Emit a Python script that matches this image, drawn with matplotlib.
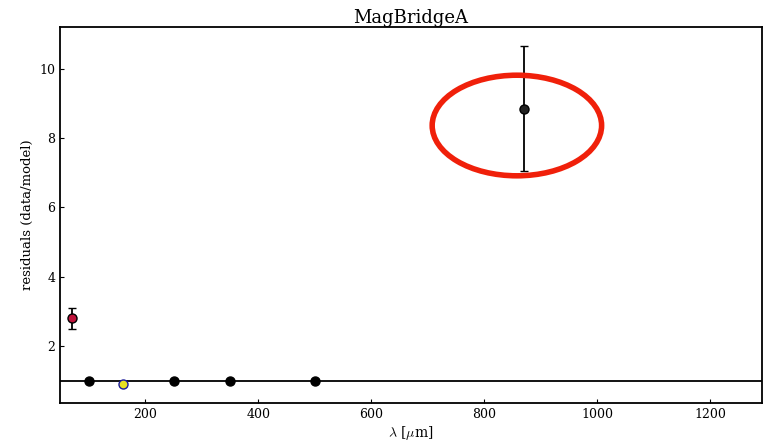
import matplotlib
matplotlib.use('Agg')
import matplotlib.pyplot as plt
from matplotlib.patches import Ellipse

plt.rcParams['font.family'] = 'serif'
plt.rcParams['font.serif'] = ['DejaVu Serif']
plt.rcParams['mathtext.fontset'] = 'cm'

# residuals per band
wavelengths = [70, 100, 160, 250, 350, 500, 870]
residuals = [2.8, 1.0, 0.92, 1.0, 1.0, 1.0, 8.85]
errors = [0.3, 0.04, 0.06, 0.03, 0.03, 0.04, 1.8]
face_colors = ['#c0143c', 'black', '#e8e020', 'black', 'black', 'black', '#222222']
edge_colors = ['black', 'black', '#1a1a9a', 'black', 'black', 'black', 'black']

title = 'MagBridgeA'
xlabel = r'$\lambda$ [$\mu$m]'
ylabel = 'residuals (data/model)'

# highlighted region around the 870 um point
ell_center = (858, 8.36)
ell_width = 300
ell_height = 2.9

fig = plt.figure(figsize=(7.65, 4.46), dpi=100)
ax = fig.add_axes([60 / 765, 43 / 446, 702 / 765, 376 / 446])

ax.axhline(1.0, color='black', lw=1.3, zorder=1)
for x, y, e, fc, ec in zip(wavelengths, residuals, errors, face_colors, edge_colors):
    ax.errorbar(x, y, yerr=e, fmt='o', ms=6.5, mfc=fc, mec=ec, mew=1.0,
                ecolor='black', elinewidth=1.3, capsize=3, capthick=1.2, zorder=3)

ax.add_patch(Ellipse(ell_center, ell_width, ell_height, fill=False,
                     edgecolor='#f0200a', lw=4, zorder=4))

ax.set_xlim(49, 1292)
ax.set_ylim(0.36, 11.2)
ax.set_xticks([200, 400, 600, 800, 1000, 1200])
ax.set_yticks([2, 4, 6, 8, 10])
ax.tick_params(direction='in', length=3, labelsize=9, width=0.8)
for s in ax.spines.values():
    s.set_linewidth(1.3)

ax.set_title(title, fontsize=13, pad=2)
ax.set_xlabel(xlabel, fontsize=10, labelpad=2)
ax.set_ylabel(ylabel, fontsize=9.5, labelpad=4)

plt.savefig('out.png', dpi=100)
